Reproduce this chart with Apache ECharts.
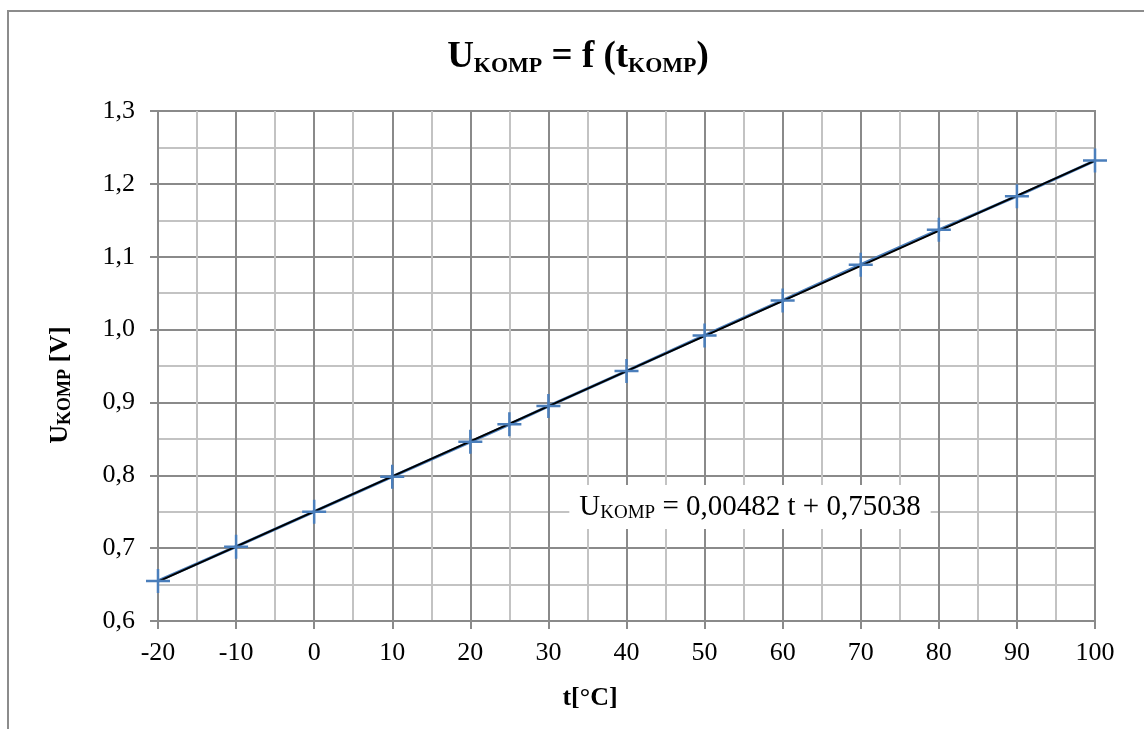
<!DOCTYPE html>
<html>
<head>
<meta charset="utf-8">
<script src="https://cdn.jsdelivr.net/npm/echarts@6/dist/echarts.min.js"></script>
<style>
html,body{margin:0;padding:0;background:#fff;}
#chart{width:1144px;height:729px;}
</style>
</head>
<body>
<div id="chart"></div>
<script>
// Data
const tempC = [-20, -10, 0, 10, 20, 25, 30, 40, 50, 60, 70, 80, 90, 100];
const uKomp = [0.655, 0.702, 0.750, 0.798, 0.846, 0.870, 0.895, 0.943, 0.992, 1.040, 1.089, 1.137, 1.183, 1.232];
const trendT = [-20, 100];
const trendU = [0.654, 1.232];
const xRange = [-20, 100, 10];
const yRange = [0.6, 1.3, 0.1];

const FONT = '"Liberation Serif", "Times New Roman", serif';
const chart = echarts.init(document.getElementById('chart'));

const crossPath = 'path://M-1.25,-12 h2.5 v10.75 h10.75 v2.5 h-10.75 v10.75 h-2.5 v-10.75 h-10.75 v-2.5 h10.75 z';

const points = tempC.map((t, i) => [t, uKomp[i]]);
const trend = trendT.map((t, i) => [t, trendU[i]]);

const majorColor = '#8a8a8a';
const minorColor = '#c3c3c3';

chart.setOption({
  animation: false,
  backgroundColor: '#fff',
  grid: {left: 158, right: 49, top: 111, bottom: 108, show: true, borderColor: majorColor, borderWidth: 2, backgroundColor: 'transparent'},
  xAxis: {
    type: 'value', min: xRange[0], max: xRange[1], interval: xRange[2],
    axisLine: {show: true, onZero: false, lineStyle: {color: majorColor, width: 2}},
    axisTick: {show: true, length: 8, lineStyle: {color: majorColor, width: 2}},
    axisLabel: {fontFamily: FONT, fontSize: 26, color: '#000', margin: 19},
    splitLine: {show: true, lineStyle: {color: majorColor, width: 2}},
    minorTick: {show: false, splitNumber: 2},
    minorSplitLine: {show: true, lineStyle: {color: minorColor, width: 2}}
  },
  yAxis: {
    type: 'value', min: yRange[0], max: yRange[1], interval: yRange[2],
    axisLine: {show: true, onZero: false, lineStyle: {color: majorColor, width: 2}},
    axisTick: {show: true, length: 8, lineStyle: {color: majorColor, width: 2}},
    axisLabel: {fontFamily: FONT, fontSize: 26, color: '#000', margin: 23,
      formatter: v => v.toFixed(1).replace('.', ',')},
    splitLine: {show: true, lineStyle: {color: majorColor, width: 2}},
    minorTick: {show: false, splitNumber: 2},
    minorSplitLine: {show: true, lineStyle: {color: minorColor, width: 2}}
  },
  series: [
    {
      type: 'line', data: points, symbol: 'none', z: 2,
      lineStyle: {color: '#4a7ebb', width: 3}
    },
    {
      type: 'line', data: trend, symbol: 'none', z: 3,
      lineStyle: {color: '#000', width: 2}
    },
    {
      type: 'scatter', data: points, symbol: crossPath, symbolSize: 24, z: 4,
      itemStyle: {color: '#4a7ebb', opacity: 1}
    }
  ],
  graphic: [
    {type: 'rect', shape: {x: 8, y: 11, width: 1300, height: 900}, style: {fill: 'none', stroke: '#8c8c8c', lineWidth: 2}, z: 0, silent: true},
    {type: 'text', x: 578, y: 57, z: 10, style: {
      text: '{m|U}{s|KOMP}{m| = f (t}{s|KOMP}{m|)}',
      align: 'center', verticalAlign: 'middle',
      rich: {
        m: {fontFamily: FONT, fontWeight: 'bold', fontSize: 37, lineHeight: 40, fill: '#000'},
        s: {fontFamily: FONT, fontWeight: 'bold', fontSize: 22, lineHeight: 30, verticalAlign: 'bottom', fill: '#000'}
      }
    }},
    {type: 'text', x: 750, y: 507, z: 10, style: {
      text: '{m|U}{s|KOMP}{m| = 0,00482 t + 0,75038}',
      align: 'center', verticalAlign: 'middle',
      backgroundColor: '#fff', padding: [6, 10, 6, 10],
      rich: {
        m: {fontFamily: FONT, fontSize: 29, lineHeight: 32, fill: '#000'},
        s: {fontFamily: FONT, fontSize: 19, lineHeight: 24, verticalAlign: 'bottom', fill: '#000'}
      }
    }},
    {type: 'text', x: 590, y: 698, z: 10, style: {
      text: 't[°C]', align: 'center', verticalAlign: 'middle',
      font: 'bold 26px ' + FONT, fill: '#000'
    }},
    {type: 'text', x: 60, y: 385, rotation: Math.PI / 2, z: 10, style: {
      text: '{m|U}{s|KOMP}{m| [V]}',
      align: 'center', verticalAlign: 'middle',
      rich: {
        m: {fontFamily: FONT, fontWeight: 'bold', fontSize: 26, lineHeight: 28, fill: '#000'},
        s: {fontFamily: FONT, fontWeight: 'bold', fontSize: 18, lineHeight: 22, verticalAlign: 'bottom', fill: '#000'}
      }
    }}
  ]
});
</script>
</body>
</html>
